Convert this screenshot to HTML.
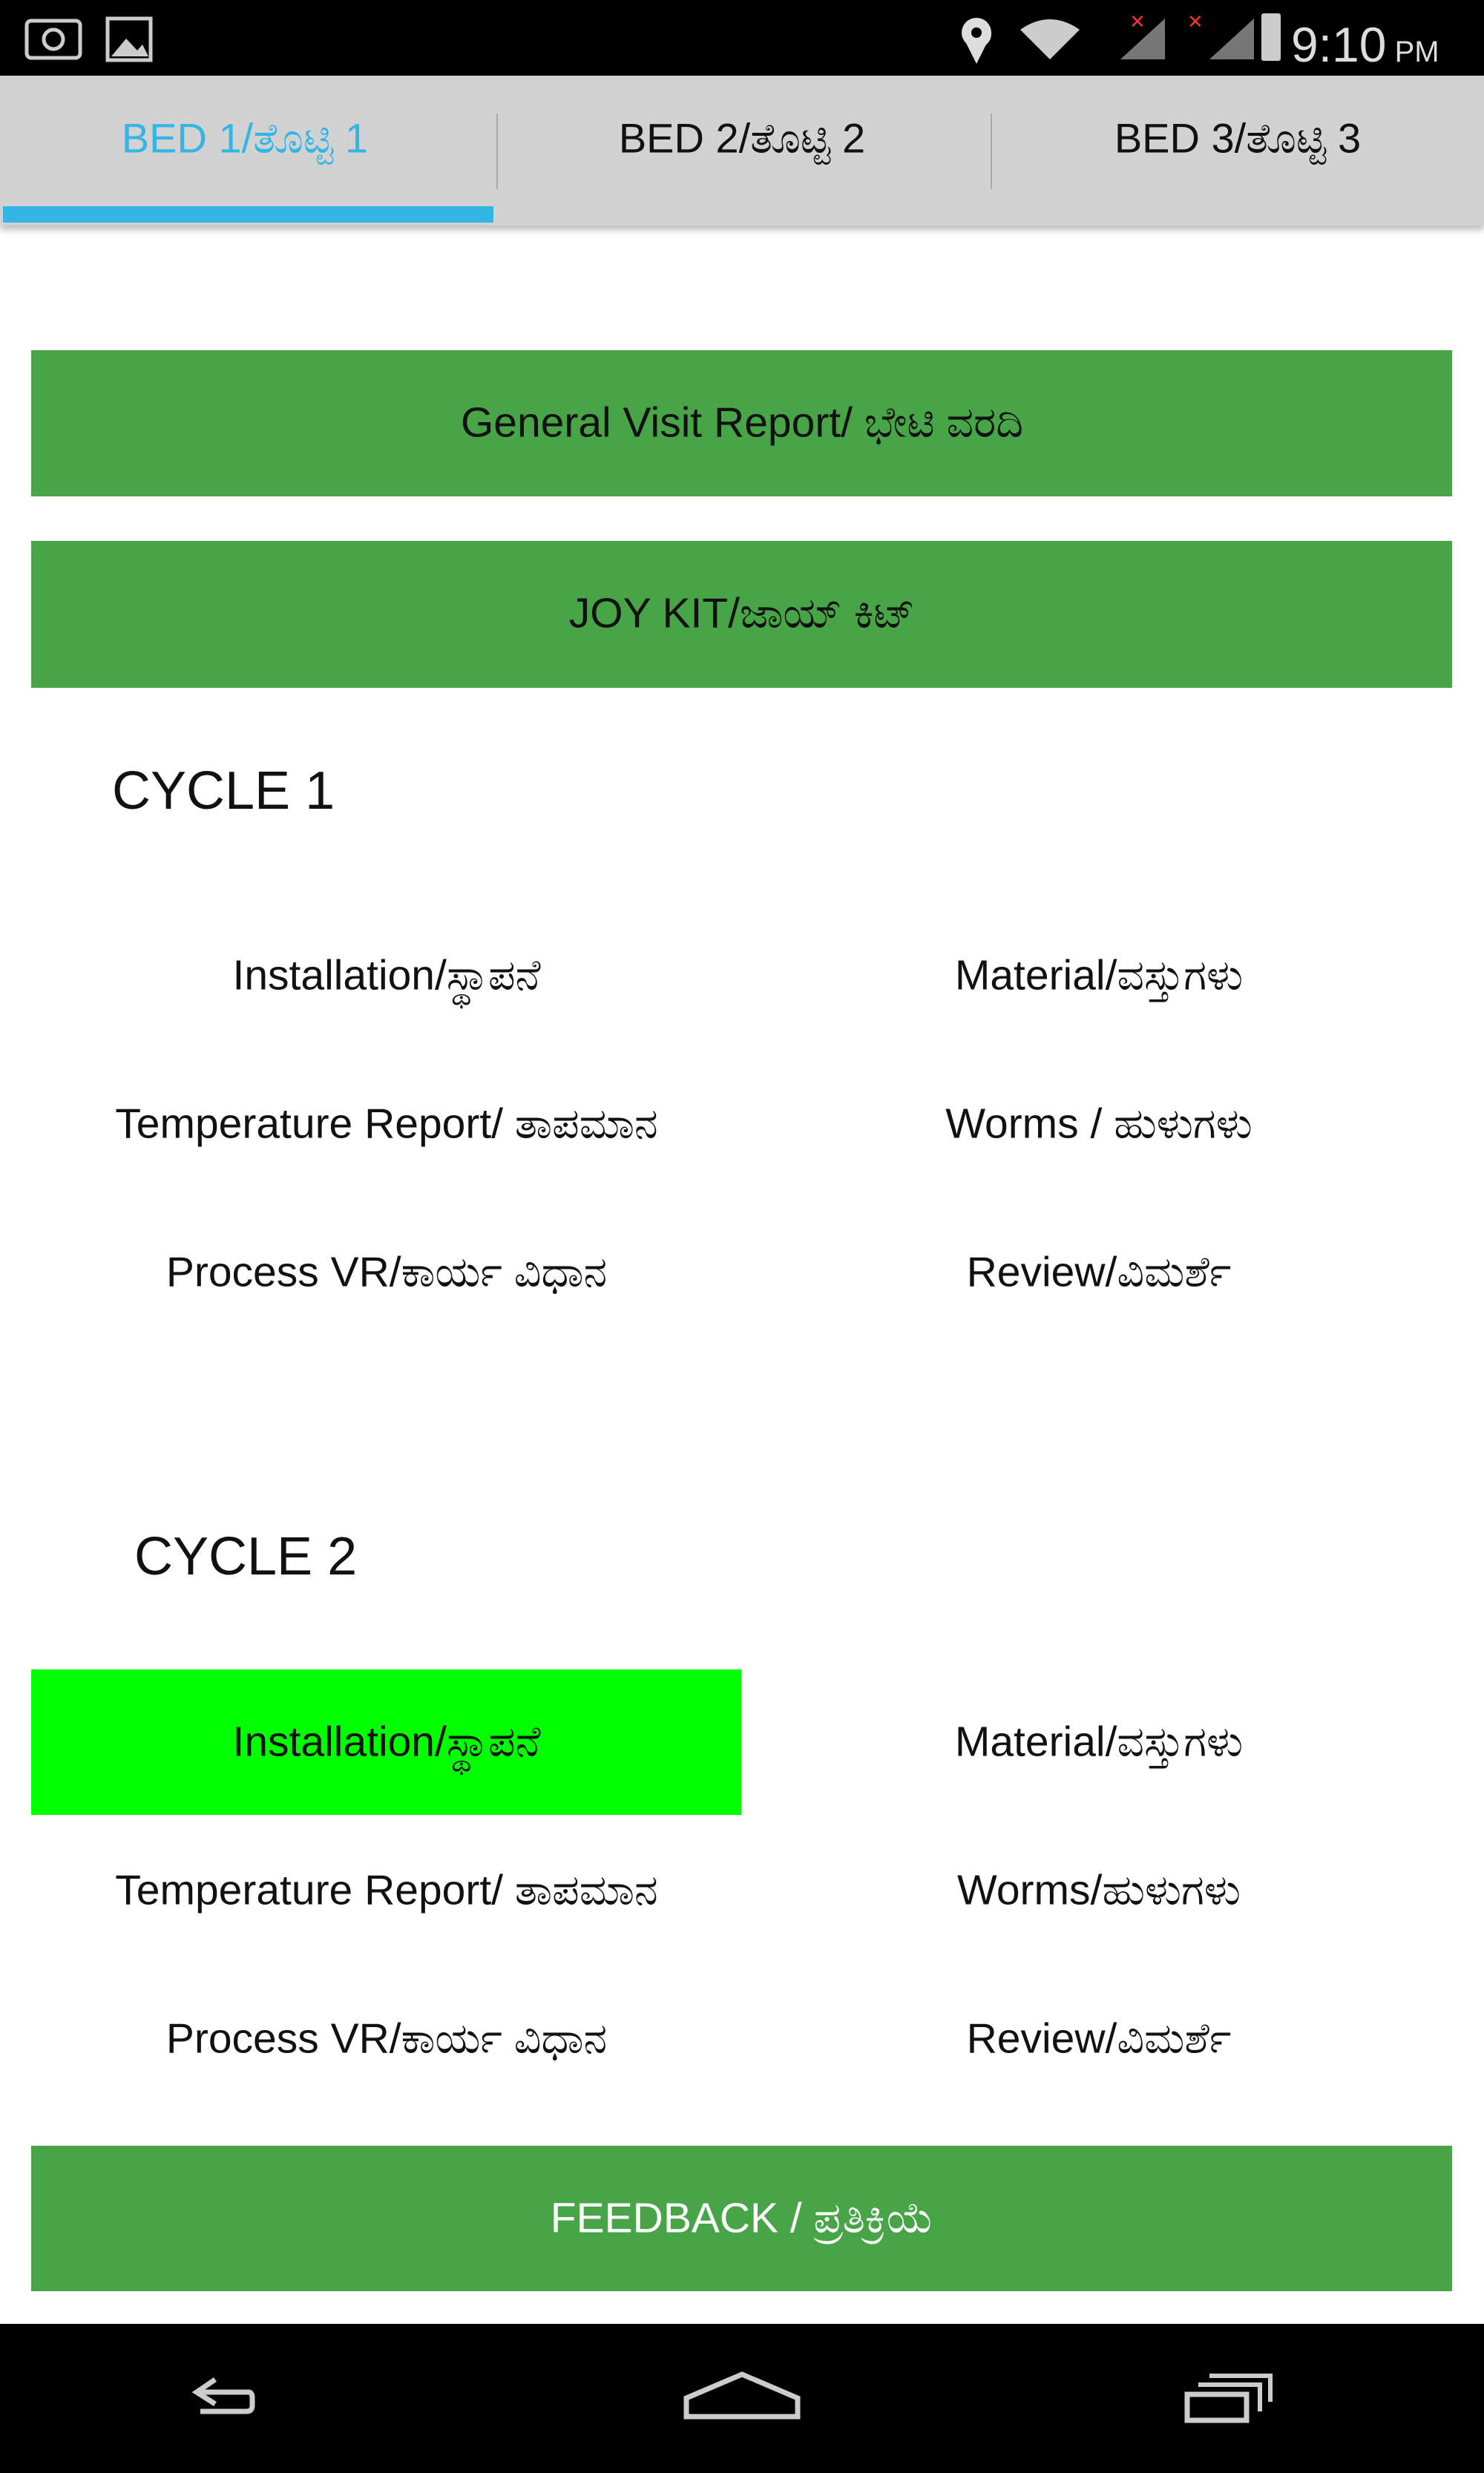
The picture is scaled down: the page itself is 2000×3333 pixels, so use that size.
<!DOCTYPE html>
<html><head><meta charset="utf-8"><style>
body{margin:0;width:2000px;height:3333px;position:relative;background:#fff;font-family:"Liberation Sans","DejaVu Sans",sans-serif;overflow:hidden}
.a{position:absolute}
.t{position:absolute;transform:translate(-50%,-50%);white-space:nowrap;font-size:57px;color:#111}
.btn{position:absolute;left:42px;width:1915px;background:#47a547}
</style></head><body>
<div class="a" style="left:0;top:0;width:2000px;height:102px;background:#000"></div>
<svg class="a" style="left:0;top:0" width="2000" height="102">
<rect x="36" y="28" width="72" height="50" rx="6" stroke="#ccc" stroke-width="5" fill="none"/>
<circle cx="72" cy="53" r="13" stroke="#ccc" stroke-width="5" fill="none"/>
<rect x="145" y="25" width="58" height="56" stroke="#ccc" stroke-width="5" fill="none"/>
<path d="M150 76 L170 52 L185 68 L192 60 L200 76Z" fill="#ccc"/>
<path d="M1318 28 a18 18 0 0 1 0 36 l0 18 Z" fill="#ddd"/>
<circle cx="1316" cy="44" r="20" fill="#ddd"/><circle cx="1316" cy="44" r="7" fill="#000"/>
<path d="M1302 58 L1316 86 L1330 58Z" fill="#ddd"/>
<path d="M1375 40 Q1415 12 1455 40 L1415 80Z" fill="#ccc"/>
<path d="M1510 80 L1570 80 L1570 25Z" fill="#777"/>
<path d="M1630 80 L1690 80 L1690 25Z" fill="#777"/>
<text x="1522" y="38" fill="#e33" font-size="26">✕</text>
<text x="1600" y="38" fill="#e33" font-size="26">✕</text>
</svg>
<div class="a" style="left:1700px;top:18px;width:26px;height:64px;background:#ccc;border-radius:3px"></div>
<div class="a" style="left:1740px;top:22px;color:#ddd;font-size:66px">9:10<span style="font-size:40px"> PM</span></div>
<div class="a" style="left:0;top:102px;width:2000px;height:202px;background:#d2d2d2;box-shadow:0 6px 8px rgba(0,0,0,0.25)"></div>
<div class="a" style="left:4px;top:278px;width:661px;height:22px;background:#33b5e5"></div>
<div class="a" style="left:669px;top:153px;width:2px;height:102px;background:#aaa"></div>
<div class="a" style="left:1335px;top:153px;width:2px;height:102px;background:#aaa"></div>
<div class="t" style="left:330px;top:187px;color:#33b5e5;font-size:56px">BED 1/ತೊಟ್ಟಿ 1</div>
<div class="t" style="left:1000px;top:187px;font-size:56px">BED 2/ತೊಟ್ಟಿ 2</div>
<div class="t" style="left:1668px;top:187px;font-size:56px">BED 3/ತೊಟ್ಟಿ 3</div>
<div class="btn" style="top:472px;height:197px"></div>
<div class="t" style="left:1000px;top:570px">General Visit Report/ ಭೇಟಿ ವರದಿ</div>
<div class="btn" style="top:729px;height:198px"></div>
<div class="t" style="left:1000px;top:827px">JOY KIT/ಜಾಯ್ ಕಿಟ್</div>
<div class="a" style="left:151px;top:1025px;font-size:72px;color:#111">CYCLE 1</div>
<div class="t" style="left:521px;top:1315px">Installation/ಸ್ಥಾಪನೆ</div>
<div class="t" style="left:1481px;top:1315px">Material/ವಸ್ತುಗಳು</div>
<div class="t" style="left:521px;top:1515px">Temperature Report/ ತಾಪಮಾನ</div>
<div class="t" style="left:1481px;top:1515px">Worms / ಹುಳುಗಳು</div>
<div class="t" style="left:521px;top:1715px">Process VR/ಕಾರ್ಯ ವಿಧಾನ</div>
<div class="t" style="left:1481px;top:1715px">Review/ವಿಮರ್ಶೆ</div>
<div class="a" style="left:181px;top:2057px;font-size:72px;color:#111">CYCLE 2</div>
<div class="a" style="left:42px;top:2250px;width:957px;height:196px;background:#00ff00"></div>
<div class="t" style="left:521px;top:2348px">Installation/ಸ್ಥಾಪನೆ</div>
<div class="t" style="left:1481px;top:2348px">Material/ವಸ್ತುಗಳು</div>
<div class="t" style="left:521px;top:2548px">Temperature Report/ ತಾಪಮಾನ</div>
<div class="t" style="left:1481px;top:2548px">Worms/ಹುಳುಗಳು</div>
<div class="t" style="left:521px;top:2748px">Process VR/ಕಾರ್ಯ ವಿಧಾನ</div>
<div class="t" style="left:1481px;top:2748px">Review/ವಿಮರ್ಶೆ</div>
<div class="btn" style="top:2892px;height:196px"></div>
<div class="t" style="left:1000px;top:2990px;color:#fff">FEEDBACK / ಪ್ರತಿಕ್ರಿಯೆ</div>
<div class="a" style="left:0;top:3132px;width:2000px;height:201px;background:#000"></div>
<svg class="a" style="left:0;top:3132px" width="2000" height="201">
<path d="M270 92 L335 92 Q340 92 340 100 L340 110 Q340 118 332 118 L270 118 M290 75 L265 92 L290 108" stroke="#ccc" stroke-width="7" fill="none"/>
<path d="M925 100 L1000 68 L1075 100 L1075 125 L925 125 Z" stroke="#ccc" stroke-width="7" fill="none"/>
<rect x="1600" y="95" width="80" height="35" stroke="#ccc" stroke-width="7" fill="none"/>
<path d="M1615 82 L1698 82 L1698 118 M1630 70 L1712 70 L1712 105" stroke="#ccc" stroke-width="6" fill="none"/>
</svg>
</body></html>
